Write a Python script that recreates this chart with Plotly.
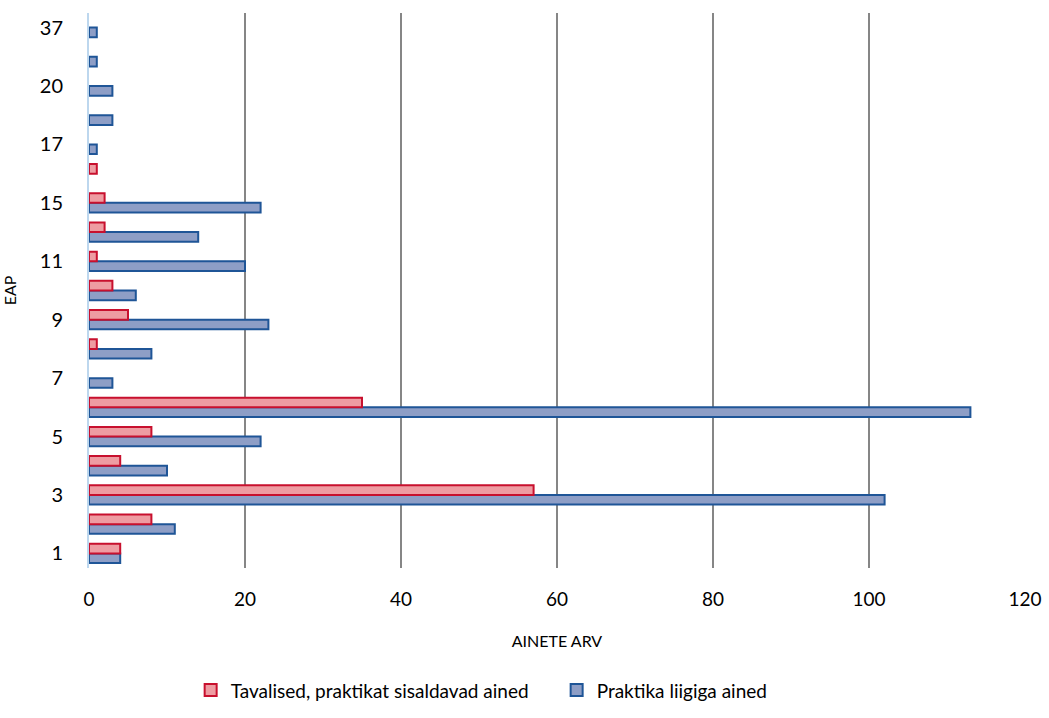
import plotly.graph_objects as go

categories = ["1", "2", "3", "4", "5", "6", "7", "8", "9", "10", "11", "12",
              "15", "16", "17", "18", "20", "30", "37"]
tavalised = [4, 8, 57, 4, 8, 35, 0, 1, 5, 3, 1, 2, 2, 1, 0, 0, 0, 0, 0]
praktika = [4, 11, 102, 10, 22, 113, 3, 8, 23, 6, 20, 14, 22, 0, 1, 3, 3, 1, 1]
shown_labels = ["1", "3", "5", "7", "9", "11", "15", "17", "20", "37"]
x_ticks = [0, 20, 40, 60, 80, 100, 120]

FONT = "Lato, Open Sans, sans-serif"


def line_widths(values):
    return [0 if v == 0 else 2 for v in values]


fig = go.Figure()
fig.add_trace(go.Bar(
    y=categories, x=praktika, orientation="h",
    name="Praktika liigiga ained", legendrank=2,
    marker=dict(color="#8E9EC6", line=dict(color="#1F5597", width=line_widths(praktika))),
))
fig.add_trace(go.Bar(
    y=categories, x=tavalised, orientation="h",
    name="Tavalised, praktikat sisaldavad ained", legendrank=1,
    marker=dict(color="#EE9CA2", line=dict(color="#C8102E", width=line_widths(tavalised))),
))

fig.update_layout(
    width=1049, height=718,
    barmode="group", bargap=0.34, bargroupgap=0.0,
    plot_bgcolor="white", paper_bgcolor="white",
    margin=dict(l=89, r=24, t=13, b=150, autoexpand=False),
    font=dict(family=FONT, size=18, color="#000000"),
    legend=dict(orientation="h", x=0.1086, xanchor="left", y=-0.186, yanchor="top",
                font=dict(size=19), traceorder="normal", itemwidth=30,
                entrywidth=321, entrywidthmode="pixels"),
    showlegend=True,
)
fig.update_xaxes(
    range=[0, 120], tickvals=x_ticks, showgrid=True, gridcolor="#868686", gridwidth=1.5,
    zeroline=False, showline=False, ticks="", ticklabelstandoff=18, automargin=False,
    title=dict(text="AINETE ARV", font=dict(size=16), standoff=26),
    tickfont=dict(size=19),
)
fig.update_yaxes(
    type="category", categoryorder="array", categoryarray=categories,
    tickvals=shown_labels, ticktext=shown_labels, automargin=False,
    showgrid=False, zeroline=False, showline=True, linecolor="#BDD7EE", linewidth=2,
    ticks="", ticklabelstandoff=20, tickfont=dict(size=20),
    title=dict(text="EAP", font=dict(size=16), standoff=32),
)

fig.write_html("out.html", config={"displayModeBar": False},
               post_script="document.body.style.margin='0';")
